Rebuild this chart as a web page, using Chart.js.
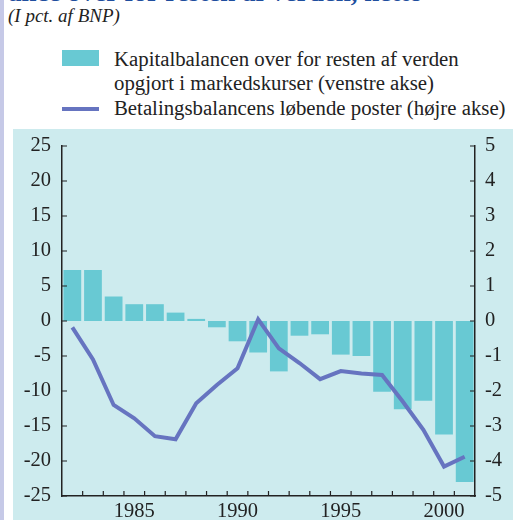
<!DOCTYPE html>
<html>
<head>
<meta charset="utf-8">
<script src="https://cdn.jsdelivr.net/npm/chart.js@4/dist/chart.umd.min.js"></script>
<style>
  body { margin: 0; width: 517px; height: 520px; background: #fff; overflow: hidden; position: relative; font-family: "Liberation Serif", serif; color: #222; }
  #strip { position: absolute; left: 0; top: 0; width: 4px; height: 520px; background: #c6c9e7; }
  #title { position: absolute; left: 8px; top: -21px; font-size: 27px; line-height: 27px; font-weight: bold; color: #1f4e9e; white-space: nowrap; }
  #sub { position: absolute; left: 8px; top: 6px; font-size: 19px; line-height: 19px; font-style: italic; }
  .lg { position: absolute; left: 114px; font-size: 20.8px; line-height: 20.8px; white-space: nowrap; }
  .sw { position: absolute; left: 62px; }
  #panel { position: absolute; left: 13px; top: 129px; width: 500px; height: 391px; background: #cdebee; }
</style>
</head>
<body>
<div id="strip"></div>
<div id="title">ance over for resten af verden, netto</div>
<div id="sub">(I pct. af BNP)</div>
<div class="sw" style="top:50px;width:37px;height:16px;background:#68c9d3"></div>
<div class="lg" style="top:49px">Kapitalbalancen over for resten af verden</div>
<div class="lg" style="top:73px">opgjort i markedskurser (venstre akse)</div>
<div class="sw" style="top:107px;width:37px;height:4px;background:#6674c0"></div>
<div class="lg" style="top:98px">Betalingsbalancens løbende poster (højre akse)</div>
<div id="panel"><canvas id="chart" width="500" height="391"></canvas></div>
<script>
const years = ['1982', '1983', '1984', '1985', '1986', '1987', '1988', '1989', '1990', '1991',
  '1992', '1993', '1994', '1995', '1996', '1997', '1998', '1999', '2000', '2001'];
const kapitalbalance = [7.3, 7.3, 3.5, 2.4, 2.4, 1.2, 0.3, -0.9, -2.9, -4.5,
  -7.2, -2.1, -1.9, -4.8, -5.0, -10.1, -12.6, -11.4, -16.2, -23.0];
const betalingsbalance = [-0.18, -1.1, -2.4, -2.78, -3.29, -3.38, -2.35, -1.83, -1.35, 0.05,
  -0.78, -1.2, -1.66, -1.43, -1.5, -1.54, -2.3, -3.11, -4.16, -3.88];
const labelYears = ['1985', '1990', '1995', '2000'];

const tickFont = { family: 'Liberation Serif', size: 20.5 };

// short ticks pointing into the plot
const innerTicks = {
  id: 'innerTicks',
  afterDraw(chart) {
    const c = chart.ctx, a = chart.chartArea;
    const x = chart.scales.x, y = chart.scales.y, y2 = chart.scales.y2;
    c.save();
    c.strokeStyle = '#222';
    c.lineWidth = 1.2;
    c.beginPath();
    y.ticks.forEach((t, i) => {
      const p = y.getPixelForTick(i);
      c.moveTo(a.left, p); c.lineTo(a.left + 5, p);
    });
    y2.ticks.forEach((t, i) => {
      const p = y2.getPixelForTick(i);
      c.moveTo(a.right, p); c.lineTo(a.right - 5, p);
    });
    for (let i = 1; i < years.length; i++) {
      const p = (x.getPixelForValue(i - 1) + x.getPixelForValue(i)) / 2;
      c.moveTo(p, a.bottom); c.lineTo(p, a.bottom - 5);
    }
    c.stroke();
    c.restore();
  }
};

function fixY(width) {
  return s => { s.width = width; s.paddingTop = 0; s.paddingBottom = 0; };
}

new Chart(document.getElementById('chart'), {
  type: 'bar',
  data: {
    labels: years,
    datasets: [{
      type: 'line',
      data: betalingsbalance,
      yAxisID: 'y2',
      borderColor: '#6674c0',
      borderWidth: 4,
      pointRadius: 0,
      tension: 0,
      order: 0
    }, {
      data: kapitalbalance,
      yAxisID: 'y',
      backgroundColor: '#68c9d3',
      barPercentage: 0.86,
      categoryPercentage: 1,
      order: 1
    }]
  },
  options: {
    responsive: false,
    animation: false,
    layout: { padding: { top: 17, left: 0, right: 0, bottom: 0 } },
    plugins: { legend: { display: false }, tooltip: { enabled: false } },
    scales: {
      x: {
        grid: { display: false, drawTicks: false },
        border: { display: true, color: '#222', width: 1.5 },
        afterFit(s) { s.height = 24; },
        ticks: {
          color: '#222', font: tickFont, padding: 3, autoSkip: false, maxRotation: 0,
          callback(v) { const l = years[v]; return labelYears.includes(l) ? l : ''; }
        }
      },
      y: {
        position: 'left', min: -25, max: 25,
        grid: { display: false, drawTicks: false },
        border: { display: true, color: '#222', width: 1.5 },
        afterFit: fixY(49),
        ticks: { stepSize: 5, color: '#222', font: tickFont, padding: 11, callback: v => String(v) }
      },
      y2: {
        position: 'right', min: -5, max: 5,
        grid: { display: false, drawTicks: false },
        border: { display: true, color: '#222', width: 1.5 },
        afterFit: fixY(38),
        ticks: { stepSize: 1, color: '#222', font: tickFont, padding: 10, callback: v => String(v) }
      }
    }
  },
  plugins: [innerTicks]
});
</script>
</body>
</html>
